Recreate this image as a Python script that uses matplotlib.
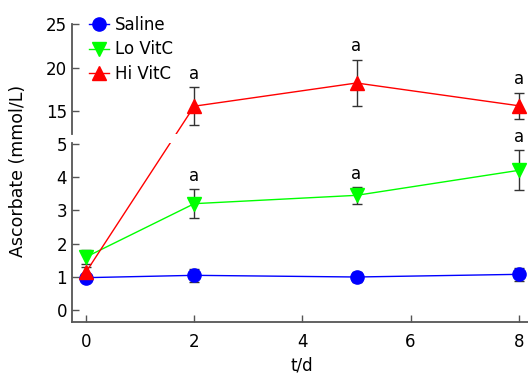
import numpy as np
import matplotlib
matplotlib.use('Agg')
import matplotlib.pyplot as plt

plt.rcParams['font.family'] = ['DejaVu Sans']

# days
t = np.array([0, 2, 5, 8])
# ascorbate, mmol/L
saline = np.array([0.98, 1.05, 1.00, 1.08])
saline_err = np.array([0.05, 0.20, 0.16, 0.20])
lo_vitc = np.array([1.60, 3.20, 3.45, 4.20])
lo_err = np.array([0.20, 0.43, 0.25, 0.60])
hi_vitc = np.array([1.15, 15.57, 18.24, 15.62])
hi_err = np.array([0.15, 2.17, 2.67, 1.52])
# which points get the "a" mark
lo_sig = [False, True, True, True]
hi_sig = [False, True, True, True]

fig = plt.figure(figsize=(5.28, 3.76), dpi=100)
W, H = 528.0, 376.0
ax_lo = fig.add_axes([72 / W, (H - 322) / H, (528 - 72) / W, (322 - 143) / H])
ax_up = fig.add_axes([72 / W, (H - 134) / H, (528 - 72) / W, (134 - 24) / H])

ax_lo.set_xlim(-0.26, 8.17)
ax_up.set_xlim(-0.26, 8.17)
ax_lo.set_ylim(-0.35, 5.02)
ax_up.set_ylim(12.37, 25.03)

spine_col = '#555555'
for ax in (ax_lo, ax_up):
    ax.spines['top'].set_visible(False)
    ax.spines['right'].set_visible(False)
    ax.spines['left'].set_color(spine_col)
    ax.spines['left'].set_linewidth(1.3)
    ax.spines['bottom'].set_color(spine_col)
    ax.spines['bottom'].set_linewidth(1.3)
    ax.tick_params(direction='in', length=5, width=1, color=spine_col, labelsize=12, labelcolor='black')
    ax.patch.set_visible(False)
ax_up.spines['bottom'].set_visible(False)
ax_up.set_xticks([])
ax_up.set_yticks([15, 20, 25])
ax_lo.set_yticks([0, 1, 2, 3, 4, 5])
ax_lo.set_xticks([0, 2, 4, 6, 8])
ax_lo.tick_params(axis='x', pad=8)

ekw = dict(fmt='none', ecolor='#333333', elinewidth=1, capsize=3.5, capthick=1, zorder=1)

# lower panel
ax_lo.errorbar(t, saline, yerr=saline_err, **ekw)
ax_lo.errorbar(t, lo_vitc, yerr=lo_err, **ekw)
ax_lo.errorbar(t[:1], hi_vitc[:1], yerr=hi_err[:1], **ekw)
l_sal, = ax_lo.plot(t, saline, '-o', color='#0000ff', lw=1, ms=9.5, label='Saline', zorder=3)
l_lo, = ax_lo.plot(t, lo_vitc, '-v', color='#00ff00', lw=1, ms=10.5, label='Lo VitC', zorder=3)

# upper panel
ax_up.errorbar(t[1:], hi_vitc[1:], yerr=hi_err[1:], **ekw)

# Hi VitC spans both panels: map every point into each panel's data coords
fig.canvas.draw()
disp = []
for xi, yi in zip(t, hi_vitc):
    src = ax_up if yi > 10 else ax_lo
    disp.append(src.transData.transform((xi, yi)))
disp = np.array(disp)
for ax in (ax_lo, ax_up):
    pts = ax.transData.inverted().transform(disp)
    l_hi, = ax.plot(pts[:, 0], pts[:, 1], '-^', color='#ff0000', lw=1, ms=10.5, label='Hi VitC', zorder=4)

# significance marks
for ax, vals, errs, sig in ((ax_lo, lo_vitc, lo_err, lo_sig), (ax_up, hi_vitc, hi_err, hi_sig)):
    for xi, yi, ei, s in zip(t, vals, errs, sig):
        if s:
            ax.annotate('a', xy=(xi, yi + ei), xytext=(0, 6), textcoords='offset points',
                        ha='center', va='baseline', fontsize=12, annotation_clip=False)

ax_up.legend(handles=[l_sal, l_lo, l_hi], loc='upper left', bbox_to_anchor=(82 / W, 1 - 9 / H),
             bbox_transform=fig.transFigure, frameon=False, fontsize=12, handlelength=1.2,
             handletextpad=0.4, labelspacing=0.4, borderaxespad=0)

fig.text(18 / W, (H - 171) / H, 'Ascorbate (mmol/L)', rotation=90, ha='center', va='center', fontsize=12.5)
fig.text(302 / W, (H - 366) / H, 't/d', ha='center', va='center', fontsize=12)

plt.savefig('out.png', dpi=100)
